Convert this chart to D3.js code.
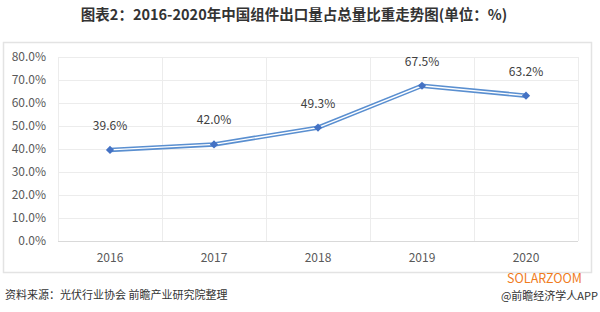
<!DOCTYPE html>
<html>
<head>
<meta charset="utf-8">
<script src="https://d3js.org/d3.v7.min.js"></script>
<style>
body{margin:0;background:#fff;}
text{font-family:"Microsoft YaHei","Noto Sans CJK SC",sans-serif;}
</style>
</head>
<body>
<svg id="chart" width="600" height="312"></svg>
<script>
var years=['2016','2017','2018','2019','2020'];
var shares=[39.6,42.0,49.3,67.5,63.2];
var yTicks=[0,10,20,30,40,50,60,70,80];
var title='图表2：2016-2020年中国组件出口量占总量比重走势图(单位：%)';
var source='资料来源：光伏行业协会 前瞻产业研究院整理';

var svg=d3.select('#chart');
var pLeft=58,pRight=578,pTop=57,pBottom=241;

// outer frame
svg.append('rect').attr('x',3.5).attr('y',42.5).attr('width',588).attr('height',230)
 .attr('fill','none').attr('stroke','#e3e3e3').attr('stroke-width',1.5);

svg.append('text').attr('x',294).attr('y',20).attr('text-anchor','middle')
 .attr('font-size',14.5).attr('font-weight','bold').attr('fill','#333').text(title);

var xs=d3.scaleBand().domain(years).range([pLeft,pRight]);
var ys=d3.scaleLinear().domain([0,80]).range([pBottom,pTop]);

// horizontal grid
svg.append('g').selectAll('line').data(yTicks).enter().append('line')
 .attr('x1',pLeft).attr('x2',pRight)
 .attr('y1',function(d){return Math.round(ys(d))+0.5;})
 .attr('y2',function(d){return Math.round(ys(d))+0.5;})
 .attr('stroke',function(d){return d==0?'#d9d9d9':'#ececec';});
// vertical grid at band edges
svg.append('g').selectAll('line').data(years).enter().append('line')
 .attr('x1',function(d){return Math.round(xs(d))+0.5;})
 .attr('x2',function(d){return Math.round(xs(d))+0.5;})
 .attr('y1',pTop).attr('y2',pBottom).attr('stroke','#ececec');
svg.append('line').attr('x1',pRight+0.5).attr('x2',pRight+0.5).attr('y1',pTop).attr('y2',pBottom).attr('stroke','#ececec');

var yAxis=d3.axisLeft(ys).tickValues(yTicks).tickSize(0).tickPadding(12)
 .tickFormat(function(d){return d.toFixed(1)+'%';});
var gy=svg.append('g').attr('transform','translate('+pLeft+',0)').call(yAxis);
gy.select('.domain').remove();
gy.selectAll('text').attr('font-size',12).attr('fill','#595959').attr('font-family','"Microsoft YaHei","Noto Sans CJK SC",sans-serif');

var xAxis=d3.axisBottom(xs).tickSize(0).tickPadding(12);
var gx=svg.append('g').attr('transform','translate(0,'+pBottom+')').call(xAxis);
gx.select('.domain').remove();
gx.selectAll('text').attr('font-size',12).attr('fill','#595959').attr('font-family','"Microsoft YaHei","Noto Sans CJK SC",sans-serif');

var line=d3.line().x(function(d,i){return xs(years[i])+xs.bandwidth()/2;}).y(function(d){return ys(d);});
svg.append('path').datum(shares).attr('d',line).attr('fill','none').attr('stroke','#5a8fd0').attr('stroke-width',4.5);
svg.append('path').datum(shares).attr('d',line).attr('fill','none').attr('stroke','#ffffff').attr('stroke-width',1.4);

svg.append('g').selectAll('path').data(shares).enter().append('path')
 .attr('d',d3.symbol().type(d3.symbolSquare).size(34))
 .attr('transform',function(d,i){return 'translate('+(xs(years[i])+xs.bandwidth()/2)+','+ys(d)+') rotate(45)';})
 .attr('fill','#4472c4');

svg.append('g').selectAll('text').data(shares).enter().append('text')
 .attr('x',function(d,i){return xs(years[i])+xs.bandwidth()/2;})
 .attr('y',function(d){return ys(d)-20;})
 .attr('text-anchor','middle').attr('font-size',12).attr('fill','#404040')
 .text(function(d){return d.toFixed(1)+'%';});

svg.append('text').attr('x',5).attr('y',299).attr('font-size',11).attr('fill','#333').text(source);
svg.append('text').attr('x',582).attr('y',283).attr('text-anchor','end').attr('font-size',12.5)
 .attr('fill','#f07c1e').attr('font-family','"DejaVu Sans Mono",monospace').text('SOLARZOOM');
svg.append('text').attr('x',598).attr('y',300).attr('text-anchor','end').attr('font-size',11).attr('fill','#333').text('@前瞻经济学人APP');
</script>
</body>
</html>
